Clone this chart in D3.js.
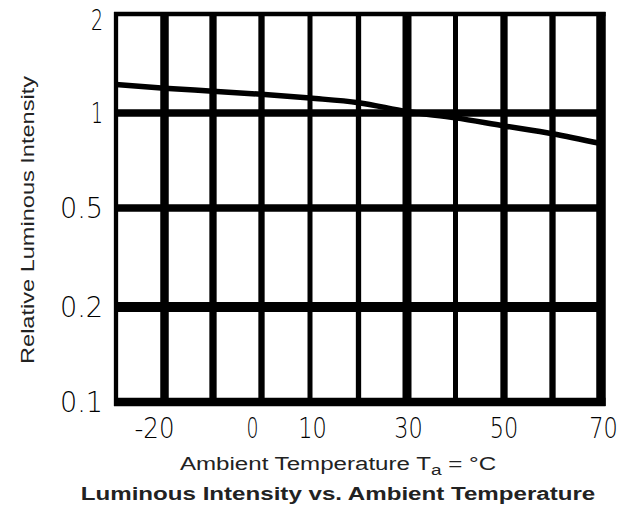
<!DOCTYPE html>
<html>
<head>
<meta charset="utf-8">
<script src="https://cdn.jsdelivr.net/npm/d3@7"></script>
<style>
  body { margin: 0; background: #fff; }
  svg { display: block; }
</style>
</head>
<body>
<svg width="635" height="506"></svg>
<script>
// data
const temps = [-30, -20, -10, 0, 10, 20, 30, 40, 50, 60, 70];
const intensity = [1.22, 1.19, 1.165, 1.14, 1.11, 1.075, 1.01, 0.965, 0.91, 0.86, 0.80];
const xGrid = [-20, -10, 0, 10, 20, 30, 40, 50, 60];
const xTickLabels = [-20, 0, 10, 30, 50, 70];
const yTicks = [0.1, 0.2, 0.5, 1, 2];

const svg = d3.select("svg");

// x is linear, y is a log axis that the maker stretched per step
const x = d3.scaleLinear().domain([-30, 70]).range([116, 601]);
const y = d3.scaleLog().domain(yTicks).range([402, 307, 208, 113, 14]);

// line widths of the original grid (some lines are heavier)
const vWidth = { "-20": 8.5, "-10": 7.3, "0": 6.3, "10": 5, "20": 5.3, "30": 9, "40": 5, "50": 7.3, "60": 6.3 };
const hWidth = { "0.2": 10, "0.5": 7.5, "1": 7.3 };

const grid = svg.append("g");

grid.selectAll(".vgrid")
  .data(xGrid)
  .enter()
  .append("line")
  .attr("x1", d => x(d))
  .attr("x2", d => x(d))
  .attr("y1", y(2))
  .attr("y2", y(0.1))
  .style("stroke", "#000")
  .style("stroke-width", d => vWidth[d]);

grid.selectAll(".hgrid")
  .data([0.2, 0.5, 1])
  .enter()
  .append("line")
  .attr("x1", x(-30))
  .attr("x2", x(70))
  .attr("y1", d => y(d))
  .attr("y2", d => y(d))
  .style("stroke", "#000")
  .style("stroke-width", d => hWidth[d]);

// frame
const frame = [
  { x1: x(-30), y1: y(2), x2: x(70), y2: y(2), w: 4.3 },
  { x1: x(-30), y1: y(0.1), x2: x(70), y2: y(0.1), w: 8.5 },
  { x1: x(-30), y1: y(2), x2: x(-30), y2: y(0.1), w: 4.3 },
  { x1: x(70), y1: y(2), x2: x(70), y2: y(0.1), w: 9.5 }
];
grid.selectAll(".frame")
  .data(frame)
  .enter()
  .append("line")
  .attr("x1", d => d.x1 - (d.y1 === d.y2 ? 2 : 0))
  .attr("x2", d => d.x2 + (d.y1 === d.y2 ? 4.5 : 0))
  .attr("y1", d => d.y1 - (d.x1 === d.x2 ? 2 : 0))
  .attr("y2", d => d.y2 + (d.x1 === d.x2 ? 4 : 0))
  .style("stroke", "#000")
  .style("stroke-width", d => d.w);

// curve
const pts = temps.map((t, i) => [x(t), y(intensity[i])]);
svg.append("path")
  .attr("d", d3.line().curve(d3.curveMonotoneX)(pts))
  .style("fill", "none")
  .style("stroke", "#000")
  .style("stroke-width", 5.5);

// tick labels: tall, thin, narrow digits with wide spacing
const tickFont = "'DejaVu Sans', sans-serif";
const labelWidth = s => {
  const digits = s.replace(/[^0-9]/g, "").length;
  return digits * 16.5 - 4.5 + (s.includes("-") ? 11.5 : 0) + (s.includes(".") ? 14.5 : 0);
};
// the original labels sit a bit off their grid line in places
const xShift = { "-20": -10, "0": -9, "10": 2.5, "30": 1.5, "50": 0, "70": 2.5 };

svg.selectAll(".ylab")
  .data(yTicks)
  .enter()
  .append("text")
  .attr("x", 103)
  .attr("y", d => Math.max(y(d), 20))
  .attr("dy", "0.36em")
  .attr("text-anchor", "end")
  .attr("textLength", d => labelWidth(String(d)))
  .attr("lengthAdjust", "spacingAndGlyphs")
  .style("font-family", tickFont)
  .style("font-weight", 200)
  .style("font-size", "28px")
  .style("fill", "#000")
  .text(d => d);

svg.selectAll(".xlab")
  .data(xTickLabels)
  .enter()
  .append("text")
  .attr("x", d => x(d) + xShift[d])
  .attr("y", 438)
  .attr("text-anchor", "middle")
  .attr("textLength", d => labelWidth(String(d)))
  .attr("lengthAdjust", "spacingAndGlyphs")
  .style("font-family", tickFont)
  .style("font-weight", 200)
  .style("font-size", "28px")
  .style("fill", "#000")
  .text(d => d);

// axis titles (the original text is stretched sideways)
const titleFont = "'Liberation Sans', Arial, sans-serif";

svg.append("text")
  .attr("transform", "translate(34,220) rotate(-90) scale(1.24,1)")
  .attr("text-anchor", "middle")
  .style("font-family", titleFont)
  .style("font-size", "19px")
  .style("fill", "#222")
  .text("Relative Luminous Intensity");

const xt = svg.append("text")
  .attr("transform", "translate(338,470) scale(1.27,1)")
  .attr("text-anchor", "middle")
  .style("font-family", titleFont)
  .style("font-size", "19px")
  .style("fill", "#222");
xt.append("tspan").text("Ambient Temperature T");
xt.append("tspan").attr("dy", 5).style("font-size", "15px").text("a");
xt.append("tspan").attr("dy", -5).text(" = °C");

svg.append("text")
  .attr("transform", "translate(338,500) scale(1.27,1)")
  .attr("text-anchor", "middle")
  .style("font-family", titleFont)
  .style("font-size", "19px")
  .style("font-weight", "bold")
  .style("fill", "#222")
  .text("Luminous Intensity vs. Ambient Temperature");
</script>
</body>
</html>
